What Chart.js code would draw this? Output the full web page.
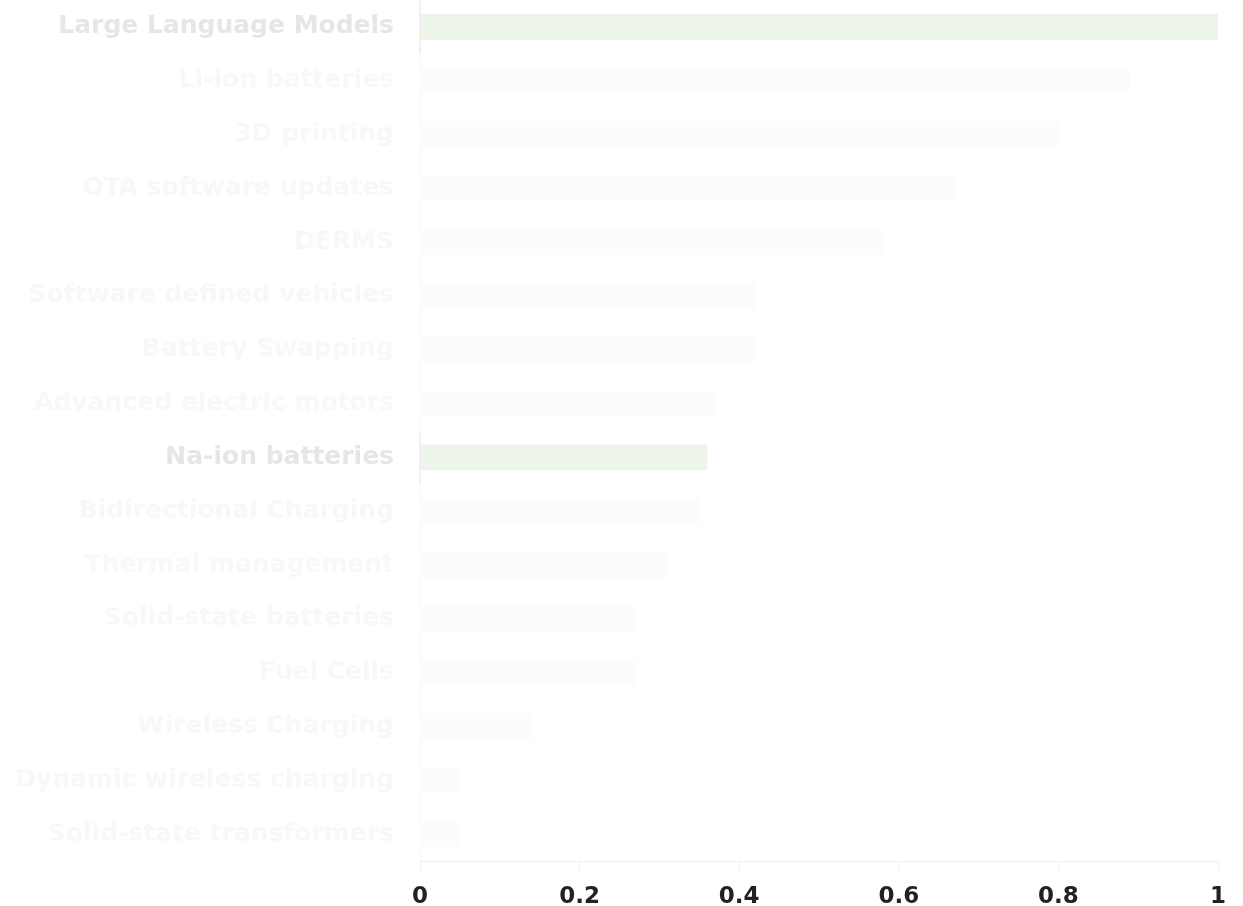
<!DOCTYPE html>
<html>
<head>
<meta charset="utf-8">
<script src="https://cdn.jsdelivr.net/npm/chart.js@4.4.1/dist/chart.umd.min.js"></script>
<style>
  html, body { margin: 0; padding: 0; background: #ffffff; }
  #wrap { width: 1243px; height: 906px; position: relative; }
</style>
</head>
<body>
<div id="wrap"><canvas id="techChart"></canvas></div>
<script>
const categories = [
  "Large Language Models",
  "Li-ion batteries",
  "3D printing",
  "OTA software updates",
  "DERMS",
  "Software defined vehicles",
  "Battery Swapping",
  "Advanced electric motors",
  "Na-ion batteries",
  "Bidirectional Charging",
  "Thermal management",
  "Solid-state batteries",
  "Fuel Cells",
  "Wireless Charging",
  "Dynamic wireless charging",
  "Solid-state transformers"
];
const scores = [1.0, 0.89, 0.8, 0.67, 0.58, 0.42, 0.42, 0.37, 0.36, 0.35, 0.31, 0.27, 0.27, 0.14, 0.05, 0.05];
const highlighted = ["Large Language Models", "Na-ion batteries"];
const xTicks = [0, 0.2, 0.4, 0.6, 0.8, 1];

const FONT = "'DejaVu Sans', 'Open Sans', sans-serif";

function isHi(i) {
  return highlighted.includes(categories[i]);
}

// darker piece of the y axis line next to each highlighted bar
const axisSegments = {
  id: "axisSegments",
  afterDatasetsDraw(chart) {
    const y = chart.scales.y;
    const ctx = chart.ctx;
    const half = (y.getPixelForValue(1) - y.getPixelForValue(0)) / 2;
    ctx.save();
    ctx.strokeStyle = "#eeeeee";
    ctx.lineWidth = 1.5;
    categories.forEach((c, i) => {
      if (!isHi(i)) return;
      const p = y.getPixelForValue(i);
      ctx.beginPath();
      ctx.moveTo(chart.chartArea.left, p - half);
      ctx.lineTo(chart.chartArea.left, p + half);
      ctx.stroke();
    });
    ctx.restore();
  }
};

new Chart(document.getElementById("techChart"), {
  type: "bar",
  data: {
    labels: categories,
    datasets: [
      {
        data: scores,
        backgroundColor: scores.map((v, i) => (isHi(i) ? "#edf5ea" : "#fcfcfa")),
        barPercentage: 0.96,
        categoryPercentage: 0.5
      }
    ]
  },
  options: {
    indexAxis: "y",
    responsive: true,
    maintainAspectRatio: false,
    animation: false,
    layout: { padding: { top: -3, right: 25, bottom: 0, left: 0 } },
    plugins: {
      legend: { display: false },
      tooltip: { enabled: false }
    },
    scales: {
      x: {
        min: 0,
        max: 1,
        afterBuildTicks: function (scale) {
          scale.ticks = xTicks.map((v) => ({ value: v }));
        },
        afterFit: function (scale) {
          scale.height = 45;
          scale.paddingLeft = 0;
          scale.paddingRight = 0;
        },
        grid: {
          drawOnChartArea: false,
          color: "#eeeeee",
          tickLength: 9
        },
        border: { color: "#eeeeee" },
        ticks: {
          padding: 13,
          color: "#222222",
          font: { family: FONT, size: 23, weight: "bold" },
          maxRotation: 0,
          callback: function (value) {
            return String(value);
          }
        }
      },
      y: {
        afterFit: function (scale) {
          scale.width = 420;
          scale.paddingTop = 0;
          scale.paddingBottom = 0;
        },
        grid: { display: false },
        border: { color: "#f6f6f6" },
        ticks: {
          padding: 18,
          autoSkip: false,
          color: function (ctx) {
            return isHi(ctx.index) ? "#e6e6e6" : "#f8f8f8";
          },
          font: { family: FONT, size: 25, weight: "bold" }
        }
      }
    }
  },
  plugins: [axisSegments]
});
</script>
</body>
</html>
